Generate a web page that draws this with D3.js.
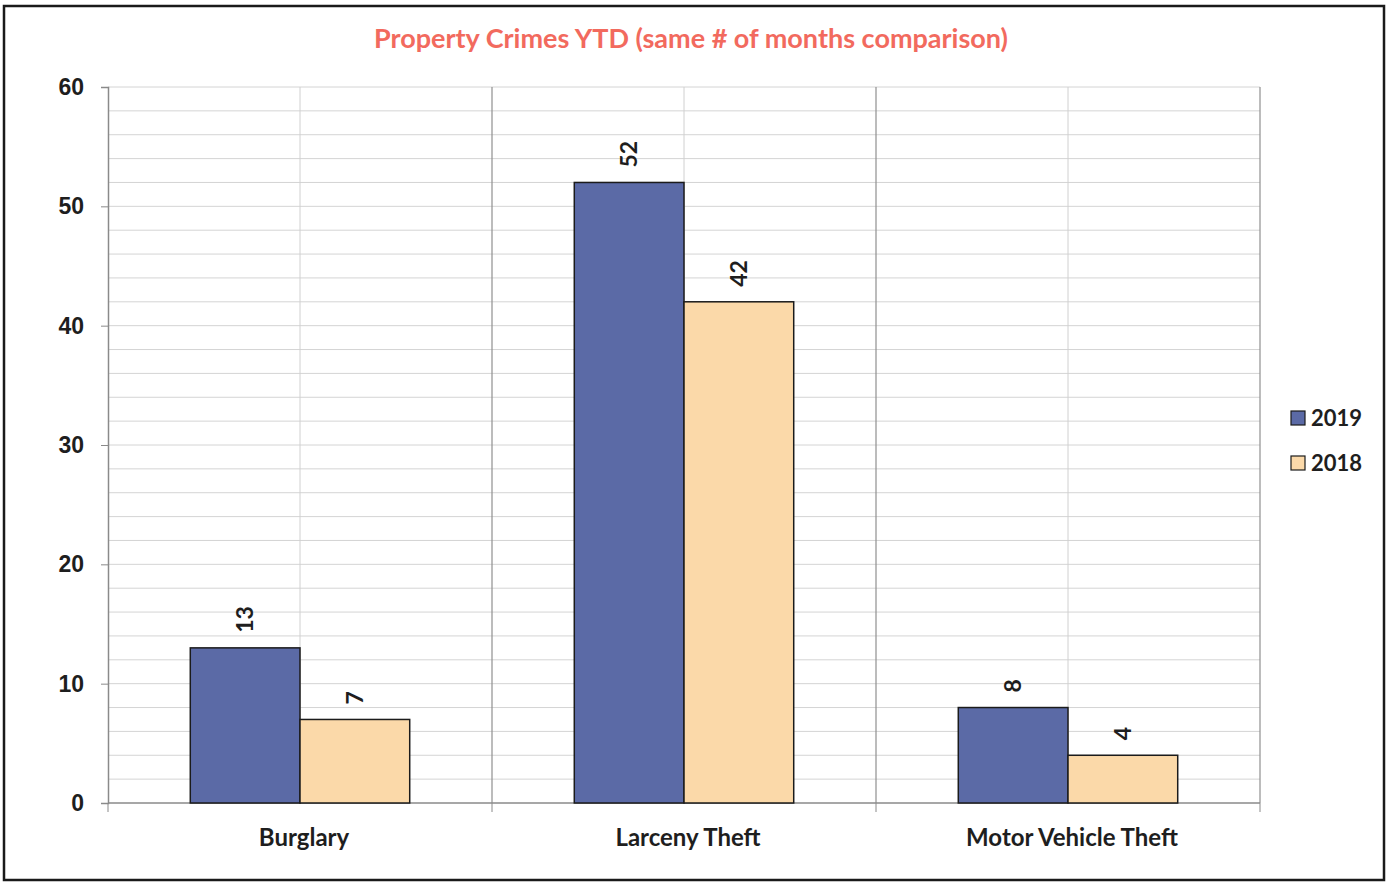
<!DOCTYPE html>
<html>
<head>
<meta charset="utf-8">
<script src="https://cdn.jsdelivr.net/npm/d3@7"></script>
<style>
  body { margin: 0; background: #fff; }
  svg { display: block; font-family: Lato, "Open Sans", sans-serif; }
  .grid-minor line { stroke: #d4d4d4; stroke-width: 1; }
  .axis path, .axis line { stroke: #8a8a8a; }
  .axis text { font-weight: 700; fill: #1e1e1e; }
</style>
</head>
<body>
<svg id="chart"></svg>
<script>
// chart values
const categories = ["Burglary", "Larceny Theft", "Motor Vehicle Theft"];
const seriesNames = ["2019", "2018"];
const values2019 = [13, 52, 8];
const values2018 = [7, 42, 4];
const yTicks = [0, 10, 20, 30, 40, 50, 60];

const colors = { "2019": "#5b6aa6", "2018": "#fbd9a9" };

const W = 1396, H = 884;
const plot = { left: 108, right: 1260, top: 87, bottom: 803 };

const svg = d3.select("#chart").attr("width", W).attr("height", H);

// outer frame
svg.append("rect")
    .attr("x", 4).attr("y", 6)
    .attr("width", 1380).attr("height", 874)
    .attr("fill", "none")
    .attr("stroke", "#1a1a1a")
    .attr("stroke-width", 2.5);

// title
svg.append("text")
    .attr("x", 691).attr("y", 48)
    .attr("text-anchor", "middle")
    .attr("font-size", 27)
    .attr("font-weight", 700)
    .attr("fill", "#f26a5e")
    .text("Property Crimes YTD (same # of months comparison)");

const x = d3.scaleBand()
    .domain(categories)
    .range([plot.left, plot.right]);

const xSeries = d3.scaleBand()
    .domain(seriesNames)
    .range([0, x.bandwidth()])
    .paddingInner(0)
    .paddingOuter(0.75);

const y = d3.scaleLinear()
    .domain([0, 60])
    .range([plot.bottom, plot.top]);

// horizontal minor gridlines every 2
svg.append("g")
    .attr("class", "grid-minor")
    .selectAll("line")
    .data(d3.range(2, 61, 2))
    .join("line")
    .attr("x1", plot.left).attr("x2", plot.right)
    .attr("y1", d => y(d)).attr("y2", d => y(d));

// vertical gridlines at category centres and boundaries
svg.append("g")
    .selectAll("line")
    .data(categories)
    .join("line")
    .attr("x1", d => x(d) + x.bandwidth() / 2)
    .attr("x2", d => x(d) + x.bandwidth() / 2)
    .attr("y1", plot.top).attr("y2", plot.bottom)
    .attr("stroke", "#d0d0d0");

svg.append("g")
    .selectAll("line")
    .data(categories.slice(1).concat(["end"]))
    .join("line")
    .attr("x1", d => d === "end" ? plot.right : x(d))
    .attr("x2", d => d === "end" ? plot.right : x(d))
    .attr("y1", plot.top).attr("y2", plot.bottom)
    .attr("stroke", "#8f8f8f")
    .attr("stroke-width", 1.2);

// y axis
svg.append("g")
    .attr("class", "axis")
    .attr("transform", `translate(${plot.left},0)`)
    .call(d3.axisLeft(y).tickValues(yTicks).tickSize(7).tickPadding(17))
    .call(g => g.selectAll("text").attr("font-size", 23))
    .call(g => g.select(".domain").attr("stroke", "#8a8a8a").attr("stroke-width", 1.5));

// x axis: ticks at category boundaries
const xAxis = svg.append("g")
    .attr("class", "axis")
    .attr("transform", `translate(0,${plot.bottom})`);

xAxis.append("line")
    .attr("x1", plot.left).attr("x2", plot.right)
    .attr("stroke", "#8a8a8a").attr("stroke-width", 1.5);

xAxis.selectAll("line.tick")
    .data(categories.concat(["end"]))
    .join("line")
    .attr("class", "tick")
    .attr("x1", d => d === "end" ? plot.right : x(d))
    .attr("x2", d => d === "end" ? plot.right : x(d))
    .attr("y1", 0).attr("y2", 9)
    .attr("stroke", "#8a8a8a");

xAxis.selectAll("text")
    .data(categories)
    .join("text")
    .attr("x", d => x(d) + x.bandwidth() / 2 + 4)
    .attr("y", 43)
    .attr("text-anchor", "middle")
    .attr("font-size", 24)
    .attr("font-weight", 700)
    .attr("fill", "#1e1e1e")
    .text(d => d);

// bars
const rows = categories.map((c, i) => ({
    category: c,
    items: [
        { series: "2019", value: values2019[i] },
        { series: "2018", value: values2018[i] }
    ]
}));

const groups = svg.append("g")
    .selectAll("g")
    .data(rows)
    .join("g")
    .attr("transform", d => `translate(${x(d.category)},0)`);

groups.selectAll("rect")
    .data(d => d.items)
    .join("rect")
    .attr("x", d => xSeries(d.series))
    .attr("y", d => y(d.value))
    .attr("width", xSeries.bandwidth())
    .attr("height", d => y(0) - y(d.value))
    .attr("fill", d => colors[d.series])
    .attr("stroke", "#1b1b1b")
    .attr("stroke-width", 1.5);

// rotated value labels
groups.selectAll("text")
    .data(d => d.items)
    .join("text")
    .attr("transform", d =>
        `translate(${xSeries(d.series) + xSeries.bandwidth() / 2 + 8},${y(d.value) - 15}) rotate(-90)`)
    .attr("text-anchor", "start")
    .attr("font-size", 23)
    .attr("font-weight", 700)
    .attr("fill", "#1e1e1e")
    .text(d => d.value);

// legend
const legend = svg.append("g")
    .selectAll("g")
    .data(seriesNames)
    .join("g")
    .attr("transform", (d, i) => `translate(1291,${411 + i * 45})`);

legend.append("rect")
    .attr("width", 14).attr("height", 14)
    .attr("fill", d => colors[d])
    .attr("stroke", "#1b1b1b")
    .attr("stroke-width", 1.2);

legend.append("text")
    .attr("x", 20).attr("y", 15)
    .attr("font-size", 22)
    .attr("font-weight", 700)
    .attr("fill", "#1e1e1e")
    .text(d => d);
</script>
</body>
</html>
